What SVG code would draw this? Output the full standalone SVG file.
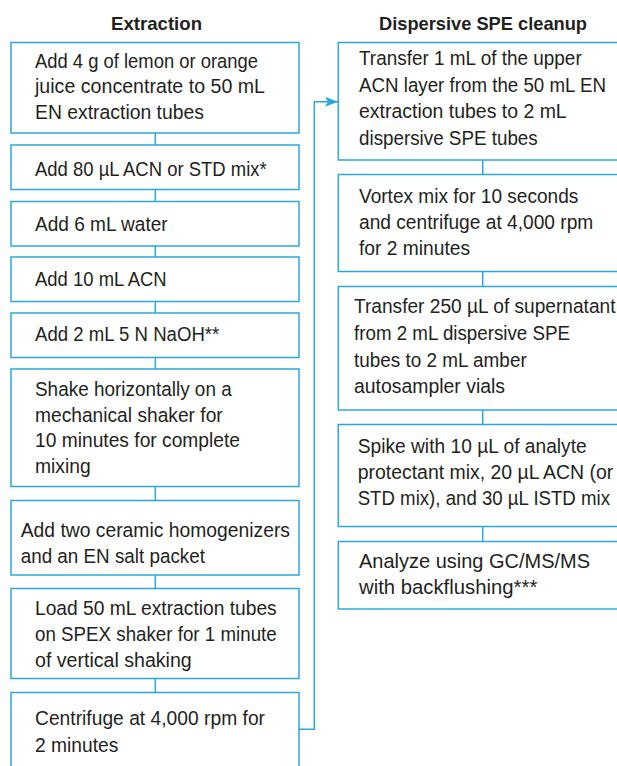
<svg xmlns="http://www.w3.org/2000/svg" width="617" height="766" viewBox="0 0 617 766">
  <style>
    .box { fill: #ffffff; stroke: #29a8e0; stroke-width: 1.5; }
    .link { fill: none; stroke: #29a8e0; stroke-width: 1.5; }
    .t { font-family: "Liberation Sans", Arial, sans-serif; font-size: 20.5px; fill: #231f20; }
    .h { font-family: "Liberation Sans", Arial, sans-serif; font-size: 19px; font-weight: bold; fill: #231f20; }
  </style>
  <defs>
    <marker id="arrow" markerUnits="userSpaceOnUse" markerWidth="14" markerHeight="12" refX="13" refY="6" orient="auto">
      <path d="M0,1 L13,6 L0,11 L3,6 Z" fill="#29a8e0"/>
    </marker>
  </defs>
  <rect width="617" height="766" fill="#ffffff"/>

  <!-- column headings -->
  <text class="h" x="111" y="30" textLength="91" lengthAdjust="spacingAndGlyphs">Extraction</text>
  <text class="h" x="379" y="30" textLength="208" lengthAdjust="spacingAndGlyphs">Dispersive SPE cleanup</text>

  <!-- connectors -->
  <g id="connectors">
    <line class="link" x1="155.3" y1="133" x2="155.3" y2="145"/>
    <line class="link" x1="155.3" y1="189.5" x2="155.3" y2="201.5"/>
    <line class="link" x1="155.3" y1="246" x2="155.3" y2="257"/>
    <line class="link" x1="155.3" y1="301.5" x2="155.3" y2="313"/>
    <line class="link" x1="155.3" y1="357.5" x2="155.3" y2="369"/>
    <line class="link" x1="155.3" y1="486.5" x2="155.3" y2="500.5"/>
    <line class="link" x1="155.3" y1="575" x2="155.3" y2="588.5"/>
    <line class="link" x1="155.3" y1="678.5" x2="155.3" y2="692.5"/>
    <path class="link" d="M299,729.3 H314.3 V101.7 H338" marker-end="url(#arrow)"/>
    <line class="link" x1="482.7" y1="160" x2="482.7" y2="174.5"/>
    <line class="link" x1="482.7" y1="271.5" x2="482.7" y2="286.5"/>
    <line class="link" x1="482.7" y1="410" x2="482.7" y2="424.5"/>
    <line class="link" x1="482.7" y1="526.5" x2="482.7" y2="541.5"/>
  </g>

  <!-- extraction steps -->
  <g id="e1">
    <rect class="box" x="11" y="42.5" width="288" height="90.5"/>
    <text class="t" x="35" y="67.5" textLength="223" lengthAdjust="spacingAndGlyphs">Add 4 g of lemon or orange</text>
    <text class="t" x="35" y="93.2" textLength="230" lengthAdjust="spacingAndGlyphs">juice concentrate to 50 mL</text>
    <text class="t" x="35" y="119" textLength="169" lengthAdjust="spacingAndGlyphs">EN extraction tubes</text>
  </g>
  <g id="e2">
    <rect class="box" x="11" y="145" width="288" height="44.5"/>
    <text class="t" x="35" y="175.5" textLength="231.7" lengthAdjust="spacingAndGlyphs">Add 80 µL ACN or STD mix*</text>
  </g>
  <g id="e3">
    <rect class="box" x="11" y="201.5" width="288" height="44.5"/>
    <text class="t" x="35" y="230.7" textLength="132.7" lengthAdjust="spacingAndGlyphs">Add 6 mL water</text>
  </g>
  <g id="e4">
    <rect class="box" x="11" y="257" width="288" height="44.5"/>
    <text class="t" x="35" y="285.7" textLength="131.7" lengthAdjust="spacingAndGlyphs">Add 10 mL ACN</text>
  </g>
  <g id="e5">
    <rect class="box" x="11" y="313" width="288" height="44.5"/>
    <text class="t" x="35" y="340.7" textLength="184.3" lengthAdjust="spacingAndGlyphs">Add 2 mL 5 N NaOH**</text>
  </g>
  <g id="e6">
    <rect class="box" x="11" y="369" width="288" height="117.5"/>
    <text class="t" x="35" y="395.7" textLength="196.7" lengthAdjust="spacingAndGlyphs">Shake horizontally on a</text>
    <text class="t" x="35" y="421.5" textLength="187.7" lengthAdjust="spacingAndGlyphs">mechanical shaker for</text>
    <text class="t" x="35" y="447.3" textLength="205" lengthAdjust="spacingAndGlyphs">10 minutes for complete</text>
    <text class="t" x="35" y="473" textLength="55.7" lengthAdjust="spacingAndGlyphs">mixing</text>
  </g>
  <g id="e7">
    <rect class="box" x="11" y="500.5" width="288" height="74.5"/>
    <text class="t" x="20.7" y="536.7" textLength="269.3" lengthAdjust="spacingAndGlyphs">Add two ceramic homogenizers</text>
    <text class="t" x="20.7" y="562.5" textLength="184.3" lengthAdjust="spacingAndGlyphs">and an EN salt packet</text>
  </g>
  <g id="e8">
    <rect class="box" x="11" y="588.5" width="288" height="90"/>
    <text class="t" x="35" y="615" textLength="241.7" lengthAdjust="spacingAndGlyphs">Load 50 mL extraction tubes</text>
    <text class="t" x="35" y="641.2" textLength="241.7" lengthAdjust="spacingAndGlyphs">on SPEX shaker for 1 minute</text>
    <text class="t" x="35" y="667.3" textLength="156.7" lengthAdjust="spacingAndGlyphs">of vertical shaking</text>
  </g>
  <g id="e9">
    <rect class="box" x="11" y="692.5" width="288" height="100"/>
    <text class="t" x="35" y="725" textLength="230" lengthAdjust="spacingAndGlyphs">Centrifuge at 4,000 rpm for</text>
    <text class="t" x="35" y="751.5" textLength="83.3" lengthAdjust="spacingAndGlyphs">2 minutes</text>
  </g>

  <!-- dispersive SPE cleanup steps -->
  <g id="d1">
    <rect class="box" x="338.3" y="42.5" width="300" height="117.5"/>
    <text class="t" x="359" y="65" textLength="222.7" lengthAdjust="spacingAndGlyphs">Transfer 1 mL of the upper</text>
    <text class="t" x="359" y="91.5" textLength="247" lengthAdjust="spacingAndGlyphs">ACN layer from the 50 mL EN</text>
    <text class="t" x="359" y="118" textLength="207.7" lengthAdjust="spacingAndGlyphs">extraction tubes to 2 mL</text>
    <text class="t" x="359" y="144.5" textLength="178.7" lengthAdjust="spacingAndGlyphs">dispersive SPE tubes</text>
  </g>
  <g id="d2">
    <rect class="box" x="338.3" y="174.5" width="300" height="97"/>
    <text class="t" x="359" y="202.7" textLength="219.3" lengthAdjust="spacingAndGlyphs">Vortex mix for 10 seconds</text>
    <text class="t" x="359" y="229" textLength="234.3" lengthAdjust="spacingAndGlyphs">and centrifuge at 4,000 rpm</text>
    <text class="t" x="359" y="255.2" textLength="111" lengthAdjust="spacingAndGlyphs">for 2 minutes</text>
  </g>
  <g id="d3">
    <rect class="box" x="338.3" y="286.5" width="300" height="123.5"/>
    <text class="t" x="354" y="313.3" textLength="261.5" lengthAdjust="spacingAndGlyphs">Transfer 250 µL of supernatant</text>
    <text class="t" x="354" y="340" textLength="216" lengthAdjust="spacingAndGlyphs">from 2 mL dispersive SPE</text>
    <text class="t" x="354" y="366.7" textLength="172.7" lengthAdjust="spacingAndGlyphs">tubes to 2 mL amber</text>
    <text class="t" x="354" y="393.3" textLength="151" lengthAdjust="spacingAndGlyphs">autosampler vials</text>
  </g>
  <g id="d4">
    <rect class="box" x="338.3" y="424.5" width="300" height="102"/>
    <text class="t" x="357.7" y="452.7" textLength="229" lengthAdjust="spacingAndGlyphs">Spike with 10 µL of analyte</text>
    <text class="t" x="357.7" y="478.5" textLength="255.6" lengthAdjust="spacingAndGlyphs">protectant mix, 20 µL ACN (or</text>
    <text class="t" x="357.7" y="505" textLength="252.3" lengthAdjust="spacingAndGlyphs">STD mix), and 30 µL ISTD mix</text>
  </g>
  <g id="d5">
    <rect class="box" x="338.3" y="541.5" width="300" height="67.5"/>
    <text class="t" x="359" y="568.3" textLength="231" lengthAdjust="spacingAndGlyphs">Analyze using GC/MS/MS</text>
    <text class="t" x="359" y="594.3" textLength="178.3" lengthAdjust="spacingAndGlyphs">with backflushing***</text>
  </g>
</svg>
